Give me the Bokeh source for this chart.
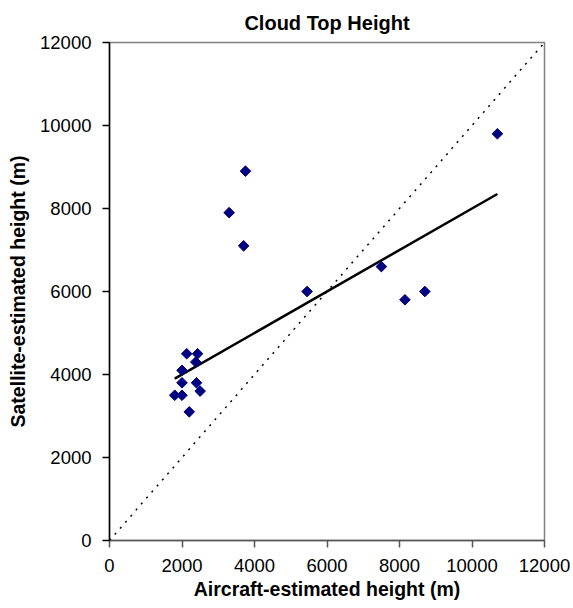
import numpy as np
from bokeh.plotting import figure
from bokeh.models import ColumnDataSource, FixedTicker, Range1d
from bokeh.embed import file_html
from bokeh.resources import INLINE

# ---- data ----
aircraft_height = [2130, 2430, 2380, 2000, 2000, 2400, 2500, 1800, 2000, 2200,
                   3750, 3300, 3700, 5450, 7500, 10700, 8150, 8700]
satellite_height = [4500, 4500, 4300, 4100, 3800, 3800, 3600, 3500, 3500, 3100,
                    8900, 7900, 7100, 6000, 6600, 9800, 5800, 6000]
trend_slope = 0.5
trend_intercept = 3000
one_to_one = [0, 12000]
ticks = [0, 2000, 4000, 6000, 8000, 10000, 12000]

FONT = "Liberation Sans"

p = figure(frame_width=435, frame_height=498,
           min_border_left=109, min_border_right=28,
           min_border_top=42, min_border_bottom=64,
           x_range=Range1d(0, 12000), y_range=Range1d(0, 12000),
           output_backend="svg", toolbar_location=None,
           title="Cloud Top Height")

p.title.text_font = FONT
p.title.text_font_size = "20px"
p.title.text_font_style = "bold"
p.title.align = "center"
p.title.vertical_align = "top"
p.title.text_color = "black"
p.title.standoff = 13

p.xgrid.visible = False
p.ygrid.visible = False
p.outline_line_color = "#808080"
p.outline_line_width = 1.5
p.background_fill_color = "white"
p.border_fill_color = "white"

for ax in (p.xaxis[0], p.yaxis[0]):
    ax.ticker = FixedTicker(ticks=ticks)
    ax.minor_tick_line_color = None
    ax.major_tick_in = 0
    ax.major_tick_out = 7
    ax.major_label_text_font = FONT
    ax.major_label_text_font_size = "18.5px"
    ax.major_label_text_color = "black"
    ax.axis_label_text_font = FONT
    ax.axis_label_text_font_size = "19.5px"
    ax.axis_label_text_font_style = "bold"
    ax.axis_label_text_color = "black"
    ax.axis_line_width = 1.5
    ax.major_tick_line_width = 1.5

p.xaxis.axis_label = "Aircraft-estimated height (m)"
p.yaxis.axis_label = "Satellite-estimated height (m)"
p.xaxis.axis_line_color = "#555555"
p.xaxis.major_tick_line_color = "#555555"
p.yaxis.axis_line_color = "black"
p.yaxis.major_tick_line_color = "black"
p.xaxis.major_label_standoff = 11
p.yaxis.major_label_standoff = 11
p.xaxis.axis_label_standoff = 3
p.yaxis.axis_label_standoff = 8

# 1:1 dotted line
p.line(one_to_one, one_to_one, line_color="black", line_width=1.5, line_dash="2 6")

# trend line over the data range
tx = np.array([min(aircraft_height), max(aircraft_height)], dtype=float)
ty = trend_slope * tx + trend_intercept
p.line(tx, ty, line_color="black", line_width=2.5)

src = ColumnDataSource(dict(x=aircraft_height, y=satellite_height))
p.scatter("x", "y", source=src, marker="square", angle=np.pi / 4, size=7.5,
          fill_color="#000080", line_color="#000080")

open("out.html", "w").write(file_html(p, INLINE))
